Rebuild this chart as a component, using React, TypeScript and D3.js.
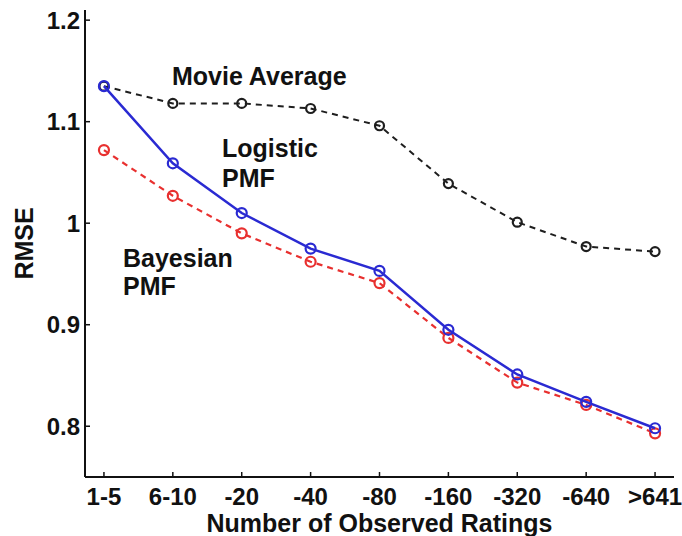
import React from "react";
import * as d3 from "d3";

const categories = ["1-5", "6-10", "-20", "-40", "-80", "-160", "-320", "-640", ">641"];
const movieAverage = [1.135, 1.118, 1.118, 1.113, 1.096, 1.039, 1.001, 0.977, 0.972];
const logisticPMF = [1.135, 1.059, 1.010, 0.975, 0.953, 0.895, 0.851, 0.824, 0.798];
const bayesianPMF = [1.072, 1.027, 0.990, 0.962, 0.941, 0.887, 0.843, 0.821, 0.793];
const yTicks = [0.8, 0.9, 1.0, 1.1, 1.2];
const yTickLabels = ["0.8", "0.9", "1", "1.1", "1.2"];

const W = 682;
const H = 536;
const FONT = "'Liberation Sans', Arial, Helvetica, sans-serif";

export default function App() {
  const x = d3.scaleLinear().domain([0.725, 9.275]).range([85, 674]);
  const y = d3.scaleLinear().domain([0.75, 1.21]).range([477, 10]);
  const line = d3
    .line<number>()
    .x((_, i) => x(i + 1))
    .y((d) => y(d));

  const series = [
    { data: movieAverage, color: "#1e1e1e", dash: "6,5", width: 2, r: 4.5 },
    { data: bayesianPMF, color: "#e8302f", dash: "6,5", width: 2.2, r: 5 },
    { data: logisticPMF, color: "#2a2ad2", dash: null, width: 2.5, r: 5 },
  ];

  const [x0, x1] = x.range();
  const [yb, yt] = y.range();

  return (
    <svg
      width={W}
      height={H}
      style={{ position: "absolute", left: 0, top: 0, background: "#fff" }}
      fontFamily={FONT}
      fontWeight="bold"
    >
      {/* axes */}
      <line x1={x0} y1={yb} x2={x0} y2={yt} stroke="#111" strokeWidth={2} />
      <line x1={x0} y1={yb} x2={x1} y2={yb} stroke="#111" strokeWidth={2} />
      {yTicks.map((t, i) => (
        <g key={"yt" + i}>
          <line x1={x0} x2={x0 + 5} y1={y(t)} y2={y(t)} stroke="#111" strokeWidth={1.5} />
          <text x={x0 - 5} y={y(t)} dy="0.36em" textAnchor="end" fontSize={24} fill="#111">
            {yTickLabels[i]}
          </text>
        </g>
      ))}
      {categories.map((c, i) => (
        <g key={"xt" + i}>
          <line x1={x(i + 1)} x2={x(i + 1)} y1={yb} y2={yb - 5} stroke="#111" strokeWidth={1.5} />
          <text x={x(i + 1)} y={505} textAnchor="middle" fontSize={24} fill="#111">
            {c}
          </text>
        </g>
      ))}
      <text x={(x0 + x1) / 2} y={532} textAnchor="middle" fontSize={25} fill="#111">
        Number of Observed Ratings
      </text>
      <text
        transform={`translate(33, ${(yb + yt) / 2}) rotate(-90)`}
        textAnchor="middle"
        fontSize={25}
        fill="#111"
      >
        RMSE
      </text>

      {/* series */}
      {series.map((s, si) => (
        <g key={"s" + si}>
          <path
            d={line(s.data) || ""}
            fill="none"
            stroke={s.color}
            strokeWidth={s.width}
            strokeDasharray={s.dash || undefined}
          />
          {s.data.map((v, i) => (
            <circle
              key={i}
              cx={x(i + 1)}
              cy={y(v)}
              r={s.r}
              fill="none"
              stroke={s.color}
              strokeWidth={2.2}
            />
          ))}
        </g>
      ))}

      {/* annotations */}
      <text x={172} y={85} fontSize={25} fill="#111">Movie Average</text>
      <text x={222} y={157} fontSize={25} fill="#111">Logistic</text>
      <text x={222} y={187} fontSize={25} fill="#111">PMF</text>
      <text x={123} y={267} fontSize={25} fill="#111">Bayesian</text>
      <text x={123} y={295} fontSize={25} fill="#111">PMF</text>
    </svg>
  );
}
